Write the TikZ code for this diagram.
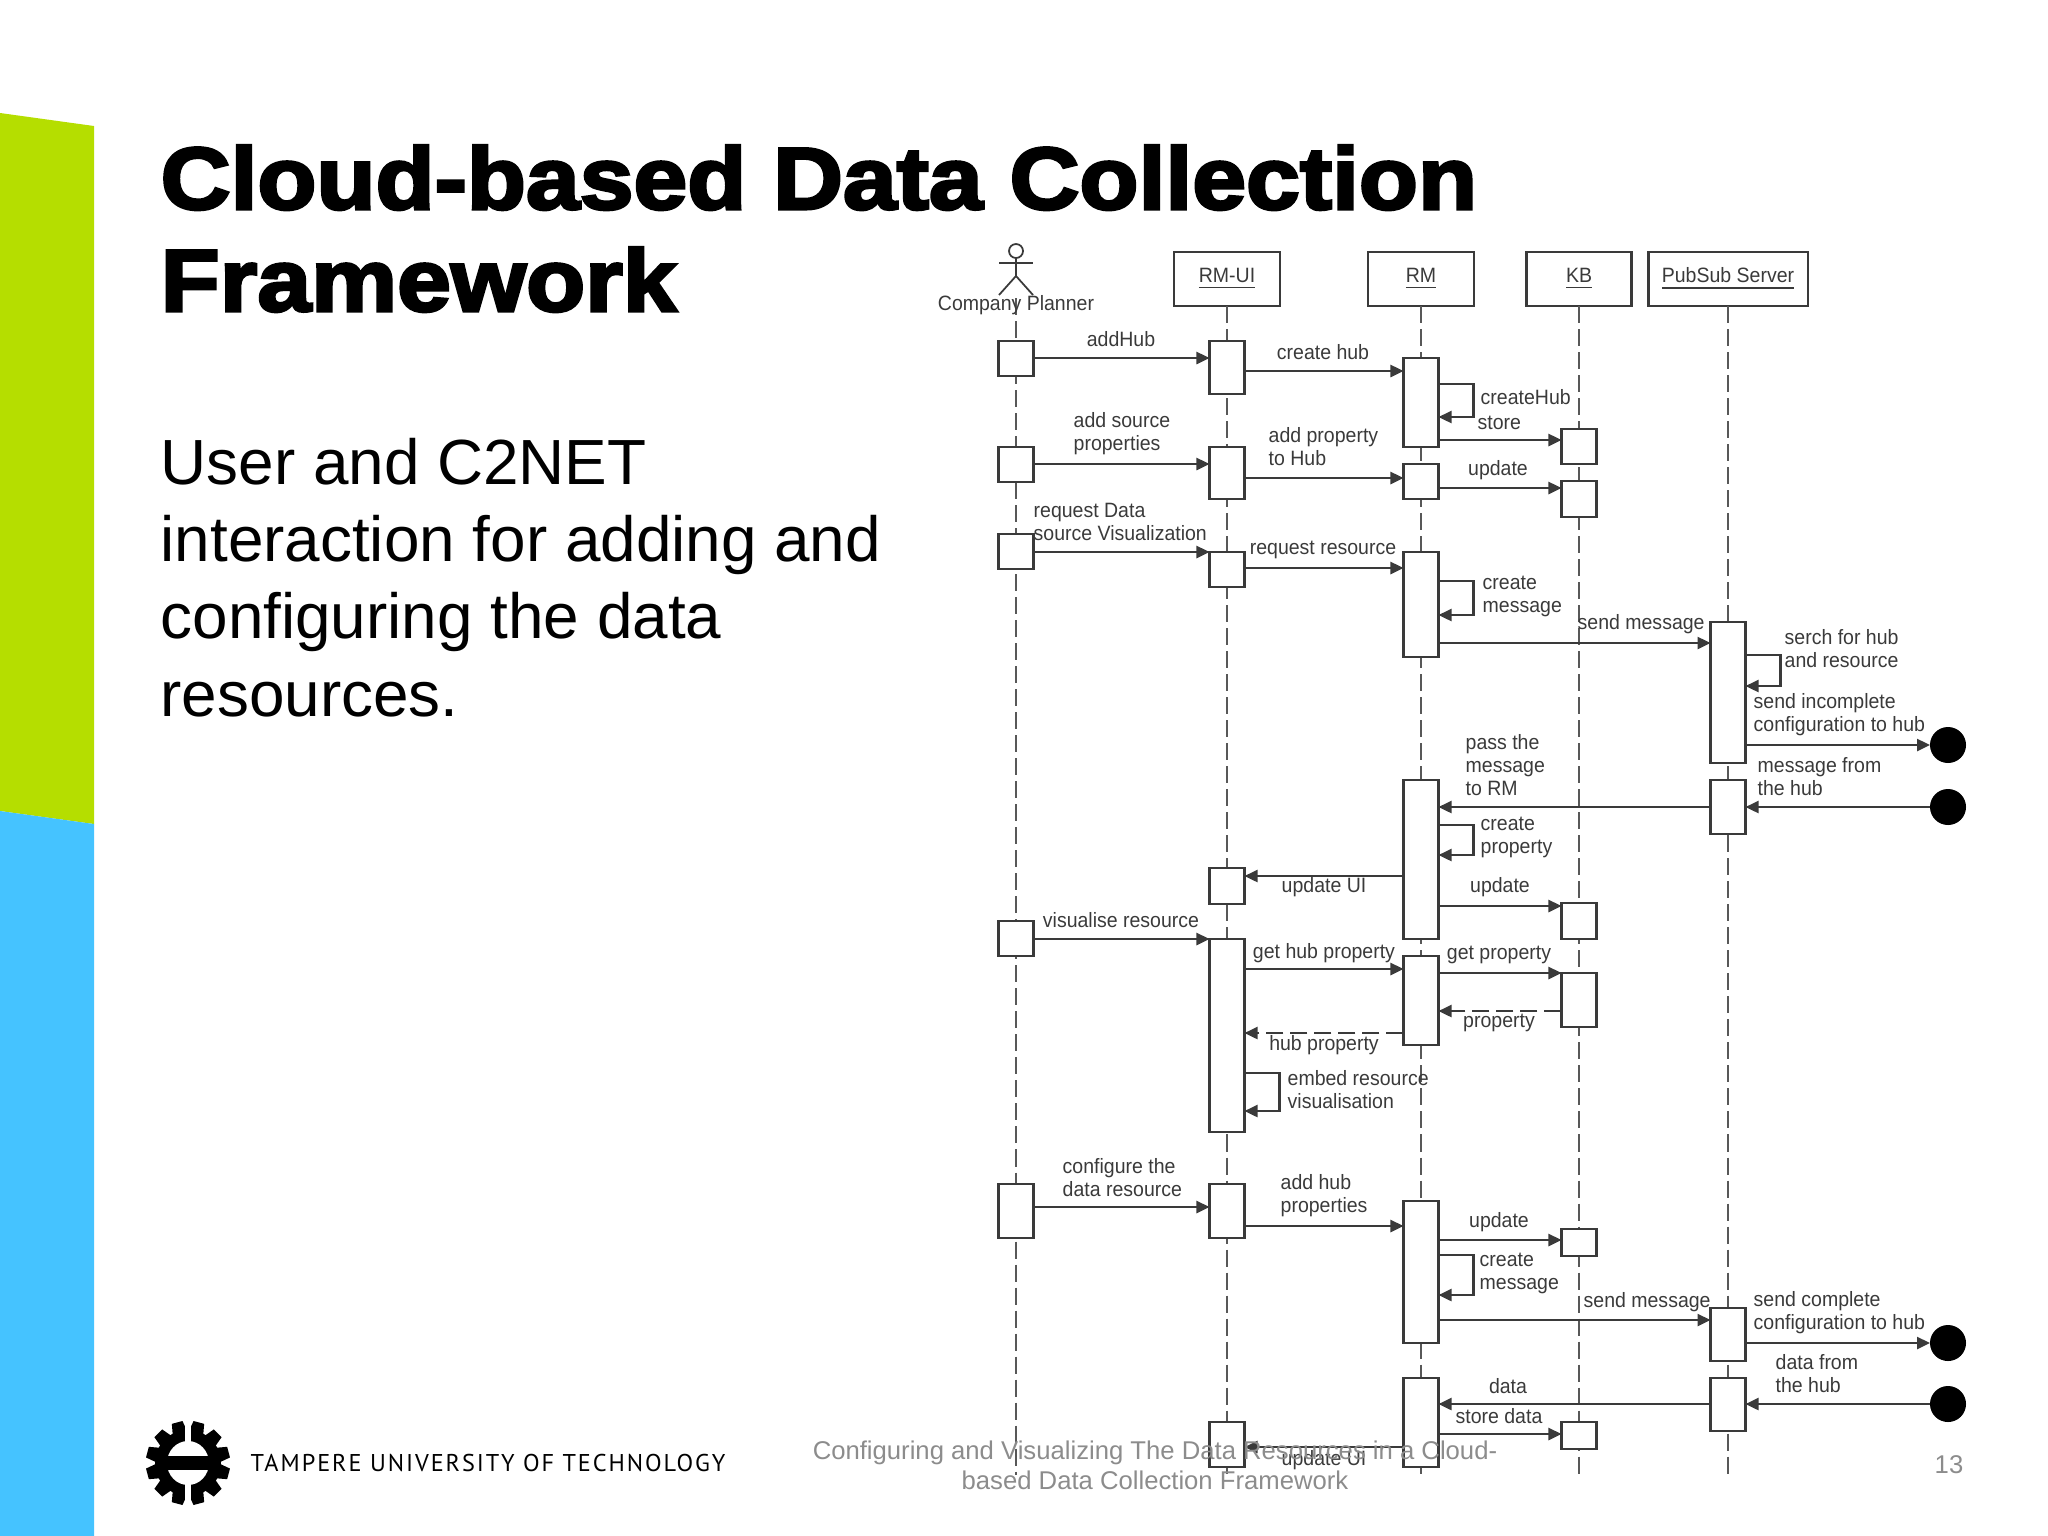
\documentclass[tikz,border=0pt]{standalone}
\usepackage{fontspec}
\usepackage{tikz}
\usetikzlibrary{arrows.meta}
\setmainfont{Liberation Sans}
\newfontfamily\titleFont[FakeBold = 3.4, FakeStretch = 1.1]{Liberation Sans Bold}
\newfontfamily\logoFont[LetterSpace = 8]{PT Sans}
\newfontfamily\umlFont[FakeStretch = 0.94]{Liberation Sans}
\definecolor{tutGreen}{HTML}{B5DE00}
\definecolor{tutBlue}{HTML}{45C3FF}
\definecolor{umlInk}{HTML}{3A3A3A}
\definecolor{footGray}{HTML}{8C8C8C}

\tikzset{
  head/.style = {draw = umlInk, line width = 0.6pt, fill = white, inner sep = 0, outer sep = 0, minimum height = 0.54cm, text = umlInk, font = \umlFont\fontsize{5.9}{6.6}\selectfont},
  act/.style = {draw = umlInk, line width = 0.6pt, fill = white, inner sep = 0, outer sep = 0, minimum width = 0.35cm},
  lifeline/.style = {draw = umlInk!85, line width = 0.5pt, dash pattern = on 0.17cm off 0.06cm},
  msg/.style = {draw = umlInk, line width = 0.7pt, -{Triangle[length = 0.13cm, width = 0.12cm]}},
  reply/.style = {msg, dash pattern = on 0.17cm off 0.07cm},
  hub/.style = {circle, fill = black, inner sep = 0, outer sep = 0, minimum size = 0.36cm},
  txt/.style = {inner sep = 0, align = left, text = umlInk, font = \umlFont\fontsize{5.9}{6.55}\selectfont},
  foot/.style = {inner sep = 0, align = center, text = footGray, font = \fontsize{7.3}{8.5}\selectfont}
}

\begin{document}
\begin{tikzpicture}[x = 0.01cm, y = -0.01cm]
  \useasboundingbox (0, 0) rectangle (2048, 1536);
  \def\actorX{1016}
  \def\uiX{1227}
  \def\rmX{1421}
  \def\kbX{1579}
  \def\psX{1728}
  \def\lifeEnd{1475}

  % ------------------------
  % slide furniture
  % ------------------------

  \fill[tutGreen] (0, 113) -- (94, 126) -- (94, 824) -- (0, 811) -- cycle;
  \fill[tutBlue] (0, 811) -- (94, 824) -- (94, 1536) -- (0, 1536) -- cycle;

  \node[anchor = base west, inner sep = 0, align = left, font = \titleFont\fontsize{25}{29}\selectfont] (title) at (160, 311) {Cloud-based Data Collection\\Framework};
  \node[anchor = base west, inner sep = 0, align = left, font = \fontsize{18.15}{21.9}\selectfont] (intro) at (160, 716) {User and C2NET\\interaction for adding and\\configuring the data\\resources.};

  % gear of the logo
  \begin{scope}[shift = {(188, 1463)}]
    \foreach \tooth in {15, 45, ..., 345} {
      \fill[black, rotate = \tooth] (-5.5, -42) -- (5.5, -42) -- (8, -28) -- (-8, -28) -- cycle;
    }
    \fill[black] (0, 0) circle (33);
    \fill[white] (0, 0) ellipse (21 and 22);
    \fill[black] (-24, -7) rectangle (24, 7);
    \fill[white] (-3, -42) rectangle (3, -20);
    \fill[white] (-3, 20) rectangle (3, 42);
  \end{scope}
  \node[anchor = west, inner sep = 0, font = \logoFont\fontsize{6.9}{8}\selectfont] (tut) at (250, 1463) {TAMPERE UNIVERSITY OF TECHNOLOGY};

  % ------------------------
  % lifelines and heads
  % ------------------------

  \node[head, minimum width = 1.06cm] (RMUI) at (\uiX, 279) {\underline{RM-UI}};
  \node[head, minimum width = 1.06cm] (RM) at (\rmX, 279) {\underline{RM}};
  \node[head, minimum width = 1.05cm] (KB) at (\kbX, 279) {\underline{KB}};
  \node[head, minimum width = 1.59cm] (PS) at (\psX, 279) {\underline{PubSub Server}};

  \coordinate (actorTop) at (\actorX, 298);
  \coordinate (actorEnd) at (\actorX, \lifeEnd);
  \coordinate (uiEnd) at (\uiX, \lifeEnd);
  \coordinate (rmEnd) at (\rmX, \lifeEnd);
  \coordinate (kbEnd) at (\kbX, \lifeEnd);
  \coordinate (psEnd) at (\psX, \lifeEnd);

  \draw[lifeline] (actorTop) -- (actorEnd);
  \draw[lifeline] (RMUI) -- (uiEnd);
  \draw[lifeline] (RM) -- (rmEnd);
  \draw[lifeline] (KB) -- (kbEnd);
  \draw[lifeline] (PS) -- (psEnd);

  % the company planner
  \begin{scope}[shift = {(\actorX, 0)}]
    \draw[umlInk, line width = 0.5pt, fill = white] (0, 251) circle (7);
    \draw[umlInk, line width = 0.5pt] (0, 258) -- (0, 276);
    \draw[umlInk, line width = 0.5pt] (-17, 263) -- (17, 263);
    \draw[umlInk, line width = 0.5pt] (-17, 295) -- (0, 276) -- (17, 295);
  \end{scope}
  \node[txt] (planner) at (\actorX, 305) {Company Planner};

  % ------------------------
  % activation boxes
  % ------------------------

  \foreach \name/\x/\top/\bot in {
    A1/\actorX/341/376, A2/\actorX/447/482, A3/\actorX/534/569, A4/\actorX/921/956, A5/\actorX/1184/1238,
    U1/\uiX/341/394, U2/\uiX/447/499, U3/\uiX/552/587, U4/\uiX/868/904, U5/\uiX/939/1132, U6/\uiX/1184/1238, U7/\uiX/1422/1467,
    R1/\rmX/358/447, R2/\rmX/464/499, R3/\rmX/552/657, R4/\rmX/780/939, R5/\rmX/956/1045, R6/\rmX/1201/1343, R7/\rmX/1378/1467,
    K1/\kbX/429/464, K2/\kbX/481/517, K3/\kbX/903/939, K4/\kbX/973/1027, K5/\kbX/1229/1256, K6/\kbX/1422/1449,
    P1/\psX/622/763, P2/\psX/780/834, P3/\psX/1308/1361, P4/\psX/1378/1431} {
    \node[act, minimum height = {(\bot-\top)*0.01cm}] (\name) at (\x, {(\top+\bot)/2}) {};
  }

  \node[hub] (D1) at (1948, 745) {};
  \node[hub] (D2) at (1948, 807) {};
  \node[hub] (D3) at (1948, 1343) {};
  \node[hub] (D4) at (1948, 1404) {};

  % ------------------------
  % messages
  % ------------------------

  % left to right
  \foreach \from/\to/\y in {
    A1/U1/358, U1/R1/371, R1/K1/440, A2/U2/464, U2/R2/478, R2/K2/488, A3/U3/552, U3/R3/568, R3/P1/643,
    P1/D1/745, R4/K3/906, A4/U5/939, U5/R5/969, R5/K4/973, A5/U6/1207, U6/R6/1226, R6/K5/1240, R6/P3/1320,
    P3/D3/1343, R7/K6/1434} {
    \draw[msg] (\from.east |- 0,\y) -- (\to.west |- 0,\y);
  }

  % right to left
  \foreach \from/\to/\y in {
    D2/P2/807, P2/R4/807, R4/U4/876, D4/P4/1404, P4/R7/1404, R7/U7/1447} {
    \draw[msg] (\from.west |- 0,\y) -- (\to.east |- 0,\y);
  }
  \draw[reply] (K4.west |- 0,1011) -- (R5.east |- 0,1011);
  \draw[reply] (R5.west |- 0,1033) -- (U5.east |- 0,1033);

  % back to the same box
  \foreach \on/\top/\bot in {
    R1/384/417, R3/581/615, P1/655/686, R4/825/855, U5/1073/1111, R6/1255/1295} {
    \draw[msg] (\on.east |- 0,\top) -- ++(35, 0) |- (\on.east |- 0,\bot);
  }

  % ------------------------
  % labels
  % ------------------------

  \foreach \name/\x/\y/\words in {
    tAddHub/1121/339/addHub, tCreateHub/1323/352/create hub, tUpdateA/1498/470/update,
    tRequest/1323/550/request resource, tUpdateUI/1324/887/update UI, tUpdateB/1500/887/update,
    tVisual/1121/920/visualise resource, tGetHub/1324/953/get hub property, tGet/1499/955/get property,
    tProp/1499/1023/property, tHubProp/1324/1045/hub property, tUpdateC/1499/1222/update,
    tData/1508/1386/data, tStore/1499/1416/store data, tUpdateD/1324/1460/update UI} {
    \node[txt] (\name) at (\x, \y) {\words};
  }

  \foreach \name/\x/\y/\words in {
    tCreateHubS/1480/397/createHub, tStoreS/1477/423/store,
    tSource/1073/434/add source\\properties, tProperty/1268/447/add property\\to Hub,
    tReqData/1033/522/request Data\\source Visualization, tCreateMsg/1482/596/create\\message,
    tSendA/1577/624/send message, tSearch/1784/649/serch for hub\\and resource,
    tIncomplete/1753/715/send incomplete\\configuration to hub, tFromHub/1757/777/message from\\the hub,
    tPass/1465/765/pass the\\message\\to RM, tCreateProp/1480/837/create\\property,
    tEmbed/1287/1090/embed resource\\visualisation, tConfig/1062/1178/configure the\\data resource,
    tAddProps/1280/1196/add hub\\properties, tCreateMsgB/1479/1273/create\\message,
    tSendB/1583/1302/send message, tComplete/1753/1313/send complete\\configuration to hub,
    tDataHub/1775/1374/data from\\the hub} {
    \node[txt, anchor = west] (\name) at (\x, \y) {\words};
  }

  % ------------------------
  % footer
  % ------------------------

  \node[foot] (footer) at (1155, 1465) {Configuring and Visualizing The Data Resources in a Cloud-\\based Data Collection Framework};
  \node[foot] (page) at (1949, 1465) {13};
\end{tikzpicture}
\end{document}
